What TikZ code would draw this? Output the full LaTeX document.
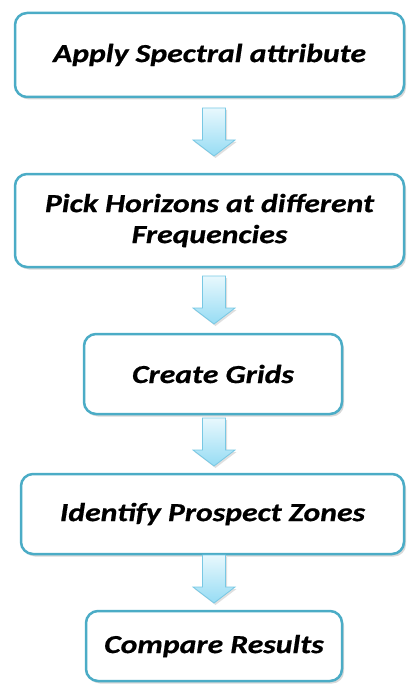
\documentclass[tikz,border=0pt]{standalone}
\usepackage{fontspec}
\setmainfont{Carlito}
\newfontfamily\stepfont{Carlito}[FakeStretch=1.22, FakeBold=0.6]
\usetikzlibrary{shadows}

\definecolor{boxblue}{RGB}{75,172,198}
\definecolor{arrowline}{RGB}{120,200,228}
\definecolor{arrowtop}{RGB}{232,248,253}
\definecolor{arrowbot}{RGB}{150,220,244}

\tikzset{
  stepbox/.style={draw=boxblue, line width=2.5pt, rounded corners=12pt, fill=white,
    align=center, font=\stepfont\fontsize{26}{31}\selectfont\bfseries\itshape,
    drop shadow={shadow xshift=2pt, shadow yshift=-2.5pt, opacity=0.3}},
  flowarrow/.pic={
    \draw[draw=arrowline, line width=0.8pt, top color=arrowtop, bottom color=arrowbot,
      drop shadow={shadow xshift=1.5pt, shadow yshift=-2pt, opacity=0.25}]
      (-11.5,0) -- (11.5,0) -- (11.5,32) -- (21,32) -- (0,48)
      -- (-21,32) -- (-11.5,32) -- cycle;
  }
}

\begin{document}
\begin{tikzpicture}[x=1pt,y=-1pt]
  \useasboundingbox (0,0) rectangle (407,687);

  % process steps
  \node[stepbox, minimum width=389pt, minimum height=84pt] (spectral) at (209.5,55) {Apply Spectral attribute};
  \node[stepbox, minimum width=389pt, minimum height=93pt] (horizons) at (209.5,220.5) {Pick Horizons at different\\Frequencies};
  \node[stepbox, minimum width=258pt, minimum height=80pt] (grids) at (213,374) {Create Grids};
  \node[stepbox, minimum width=383pt, minimum height=80pt] (zones) at (212.5,514) {Identify Prospect Zones};
  \node[stepbox, minimum width=256pt, minimum height=70pt] (results) at (214,646) {Compare Results};

  % block arrows between the steps
  \pic at (214,108) {flowarrow};
  \pic at (214,276) {flowarrow};
  \pic at (214,418) {flowarrow};
  \pic at (214,555) {flowarrow};
\end{tikzpicture}
\end{document}
